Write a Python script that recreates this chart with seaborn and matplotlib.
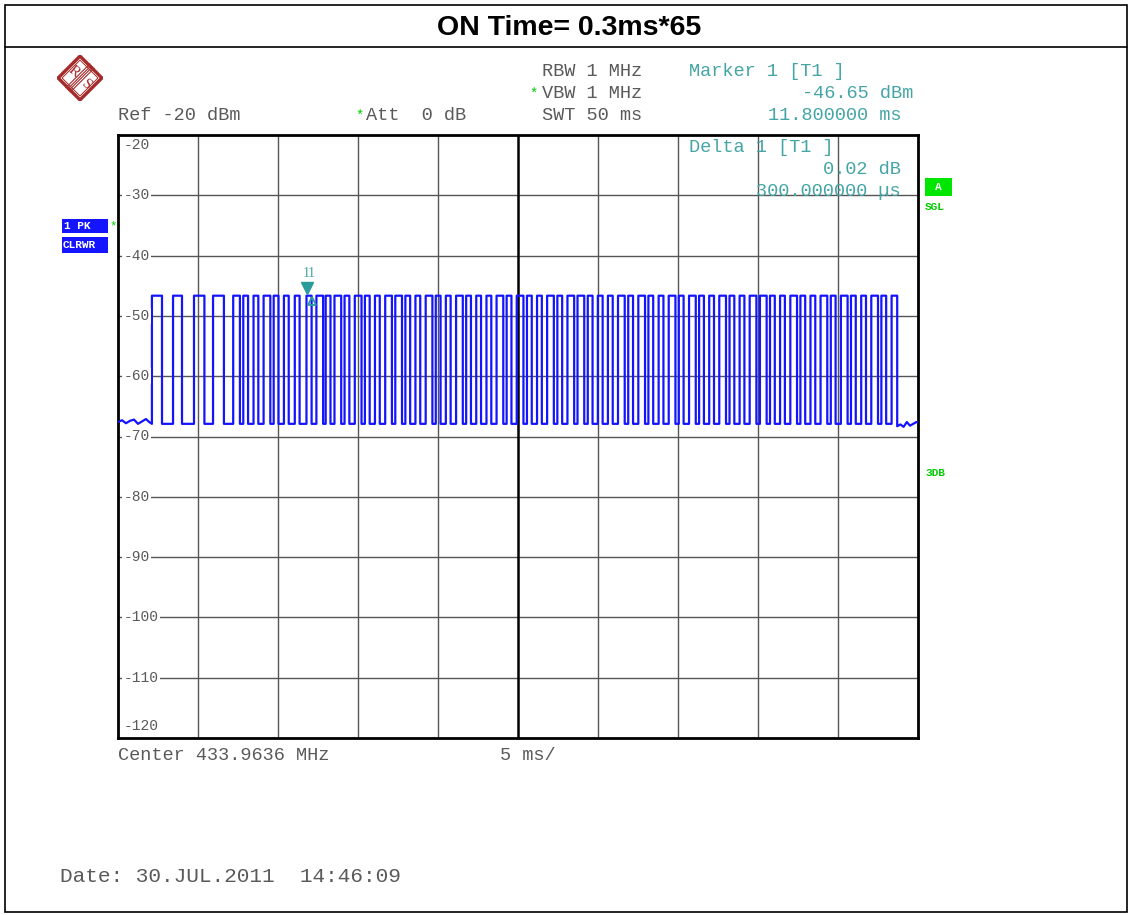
import matplotlib
matplotlib.use('Agg')
import matplotlib.pyplot as plt
import seaborn as sns
import pandas as pd
from matplotlib.patches import Rectangle, Polygon

# Chart values (times in ms, levels in dBm)
pre_rise = [2.12, 3.44, 4.75, 5.94]
pre_fall = [2.75, 4.00, 5.40, 6.62]

pulse_rise = [7.20, 7.83, 8.47, 9.10, 9.73, 10.37, 11.05, 11.78, 12.40, 12.98,
              13.53, 14.16, 14.80, 15.43, 16.06, 16.70, 17.33, 17.96, 18.59, 19.23,
              19.86, 20.49, 21.13, 21.76, 22.39, 23.03, 23.66, 24.29, 24.92, 25.56,
              26.19, 26.82, 27.46, 28.09, 28.72, 29.36, 29.99, 30.62, 31.25, 31.89,
              32.52, 33.15, 33.79, 34.42, 35.05, 35.69, 36.32, 36.95, 37.58, 38.22,
              38.85, 39.48, 40.12, 40.75, 41.38, 42.02, 42.65, 43.28, 43.91, 44.55,
              45.18, 45.81, 46.45, 47.08, 47.71, 48.35]
pulse_width = [0.42, 0.30, 0.30, 0.42, 0.30, 0.30, 0.30, 0.32, 0.42, 0.30,
               0.42, 0.30, 0.42, 0.30, 0.30, 0.42, 0.42, 0.30, 0.30, 0.42,
               0.30, 0.30, 0.42, 0.30, 0.30, 0.30, 0.42, 0.30, 0.42, 0.30,
               0.30, 0.42, 0.30, 0.42, 0.42, 0.30, 0.30, 0.30, 0.42, 0.30,
               0.42, 0.30, 0.30, 0.42, 0.30, 0.42, 0.30, 0.30, 0.42, 0.30,
               0.30, 0.42, 0.42, 0.30, 0.30, 0.42, 0.30, 0.30, 0.42, 0.30,
               0.42, 0.30, 0.30, 0.42, 0.30, 0.35]

high_db = -46.65
low_db = -67.9

noise_pre_t = [0.0, 0.25, 0.5, 0.75, 1.0, 1.25, 1.5, 1.75, 1.95, 2.12]
noise_pre_db = [-67.6, -67.3, -67.8, -67.4, -67.2, -67.9, -67.5, -67.1, -67.6, -67.4]
noise_post_t = [48.70, 48.9, 49.1, 49.3, 49.5, 49.7, 49.9, 50.0]
noise_post_db = [-68.3, -68.0, -68.4, -67.6, -68.2, -67.9, -67.6, -67.7]

y_ticks = [-20, -30, -40, -50, -60, -70, -80, -90, -100, -110, -120]

# build the trace
t, db = list(noise_pre_t[:-1]), list(noise_pre_db[:-1])
edges = list(zip(pre_rise, pre_fall)) + [(r, r + w) for r, w in zip(pulse_rise, pulse_width)]
for r, f in edges:
    t += [r, r, f, f]
    db += [low_db, high_db, high_db, low_db]
t += noise_post_t
db += noise_post_db
trace = pd.DataFrame({'time_ms': t, 'level_dbm': db})

W, H = 1131, 915
def px(x, y):
    return x / W, 1 - y / H

sns.set_style('white')
plt.rcParams['font.family'] = ['Liberation Mono', 'DejaVu Sans Mono']

fig = plt.figure(figsize=(W / 100, H / 100), dpi=100)
ax = fig.add_axes([118 / W, 1 - 738 / H, 800 / W, (738 - 135) / H])

gray = '#5a5a5a'
teal = '#45a5a5'
green = '#00cc00'
blue = '#1414ff'

# grid
for v in y_ticks[1:-1]:
    ax.axhline(v, color='#555555', lw=1.0, zorder=1)
for k in range(1, 10):
    ax.axvline(k * 5, color='black' if k == 5 else '#555555', lw=1.8 if k == 5 else 1.0, zorder=1)

sns.lineplot(data=trace, x='time_ms', y='level_dbm', sort=False, estimator=None,
             color=blue, lw=1.6, ax=ax, zorder=3, solid_joinstyle='round')

ax.set_xlim(0, 50)
ax.set_ylim(-120, -20)
ax.set_xticks([])
ax.set_yticks([])
ax.set_xlabel('')
ax.set_ylabel('')
for s in ax.spines.values():
    s.set_color('black')
    s.set_linewidth(2)
    s.set_visible(True)

# in-plot level labels
for v in y_ticks:
    yy = v
    if v == -20:
        yy = -21.7
    if v == -120:
        yy = -118.0
    ax.text(0.35, yy, f'-{abs(v)}', fontsize=10.5, color=gray, ha='left', va='center',
            bbox=dict(facecolor='white', edgecolor='none', pad=0.8), zorder=4)

# markers
ax.plot([11.8], [-45.3], marker='v', ms=8, color='#2a9a9a', zorder=5)
ax.plot([12.1], [-47.6], marker='^', ms=6, mfc='none', mec='#2a9a9a', mew=1.3, zorder=5)
ax.text(11.75, -42.9, '1', fontsize=10, color=teal, ha='center', va='center', family='Liberation Serif')
ax.text(12.1, -42.9, '1', fontsize=10, color=teal, ha='center', va='center', family='Liberation Serif')

# header texts
fs = 13.4
fig.text(*px(118, 115), 'Ref -20 dBm', fontsize=fs, color=gray, va='center')
fig.text(*px(355, 116), '*', fontsize=10, color=green, va='center')
fig.text(*px(366, 115), 'Att  0 dB', fontsize=fs, color=gray, va='center')
fig.text(*px(542, 71), 'RBW 1 MHz', fontsize=fs, color=gray, va='center')
fig.text(*px(529, 94), '*', fontsize=10, color=green, va='center')
fig.text(*px(542, 93), 'VBW 1 MHz', fontsize=fs, color=gray, va='center')
fig.text(*px(542, 115), 'SWT 50 ms', fontsize=fs, color=gray, va='center')
fig.text(*px(689, 71), 'Marker 1 [T1 ]', fontsize=fs, color=teal, va='center')
fig.text(*px(913, 93), '-46.65 dBm', fontsize=fs, color=teal, va='center', ha='right')
fig.text(*px(901, 115), '11.800000 ms', fontsize=fs, color=teal, va='center', ha='right')
fig.text(*px(689, 148), 'Delta 1 [T1 ]', fontsize=fs, color=teal, va='center')
fig.text(*px(901, 170), '0.02 dB', fontsize=fs, color=teal, va='center', ha='right')
fig.text(*px(901, 192), '300.000000 µs', fontsize=fs, color=teal, va='center', ha='right')

# side badges
fig.patches.append(Rectangle(px(62, 233), 46 / W, 14 / H, transform=fig.transFigure,
                             facecolor=blue, edgecolor='none'))
fig.text(*px(64, 226), '1 PK', fontsize=8, color='white', weight='bold', va='center')
fig.text(*px(109, 226), '*', fontsize=9, color=green, va='center')
fig.patches.append(Rectangle(px(62, 253), 46 / W, 16 / H, transform=fig.transFigure,
                             facecolor=blue, edgecolor='none'))
fig.text(*px(63, 245), 'CLRWR', fontsize=8, color='white', weight='bold', va='center')
fig.patches.append(Rectangle(px(925, 196), 27 / W, 18 / H, transform=fig.transFigure,
                             facecolor='#00e600', edgecolor='none'))
fig.text(*px(938, 187), 'A', fontsize=8, color='white', weight='bold', va='center', ha='center')
fig.text(*px(925, 207), 'SGL', fontsize=8, color=green, weight='bold', va='center')
fig.text(*px(925, 473), '3DB', fontsize=8, color=green, weight='bold', va='center')

# footer texts
fig.text(*px(118, 755), 'Center 433.9636 MHz', fontsize=fs, color=gray, va='center')
fig.text(*px(500, 755), '5 ms/', fontsize=fs, color=gray, va='center')
fig.text(*px(60, 877), 'Date: 30.JUL.2011  14:46:09', fontsize=15.2, color=gray, va='center')

# title and frame
fig.text(*px(569, 28), 'ON Time= 0.3ms*65', fontsize=20.5, weight='bold', ha='center', va='center',
         family='Liberation Sans', color='black')
fig.patches.append(Rectangle(px(5, 912), (1127 - 5) / W, (912 - 5) / H, transform=fig.transFigure,
                             fill=False, edgecolor='black', lw=1.2))
fig.lines.append(plt.Line2D([5 / W, 1127 / W], [1 - 47 / H, 1 - 47 / H], transform=fig.transFigure,
                            color='black', lw=1.2))

# R&S logo
lax = fig.add_axes([57 / W, 1 - 101 / H, 46 / W, 46 / H])
lax.set_xlim(-1.05, 1.05)
lax.set_ylim(-1.05, 1.05)
lax.axis('off')
red = '#a52a2a'
lax.add_patch(Polygon([(0, 1), (1, 0), (0, -1), (-1, 0)], closed=True, fill=False, ec=red, lw=2.4))
lax.add_patch(Polygon([(0, 0.82), (0.82, 0), (0, -0.82), (-0.82, 0)], closed=True, fill=False, ec=red, lw=0.7))
for off in [-0.1, -0.03, 0.03, 0.1]:
    lax.plot([-0.55 + off, 0.55 + off], [-0.55 - off, 0.55 - off], color=red, lw=0.8)
lax.text(-0.28, 0.3, 'R', fontsize=11, color=red, ha='center', va='center', rotation=-40, family='Liberation Serif')
lax.text(0.3, -0.3, 'S', fontsize=11, color=red, ha='center', va='center', rotation=-40, family='Liberation Serif')

fig.savefig('out.png', dpi=100)
